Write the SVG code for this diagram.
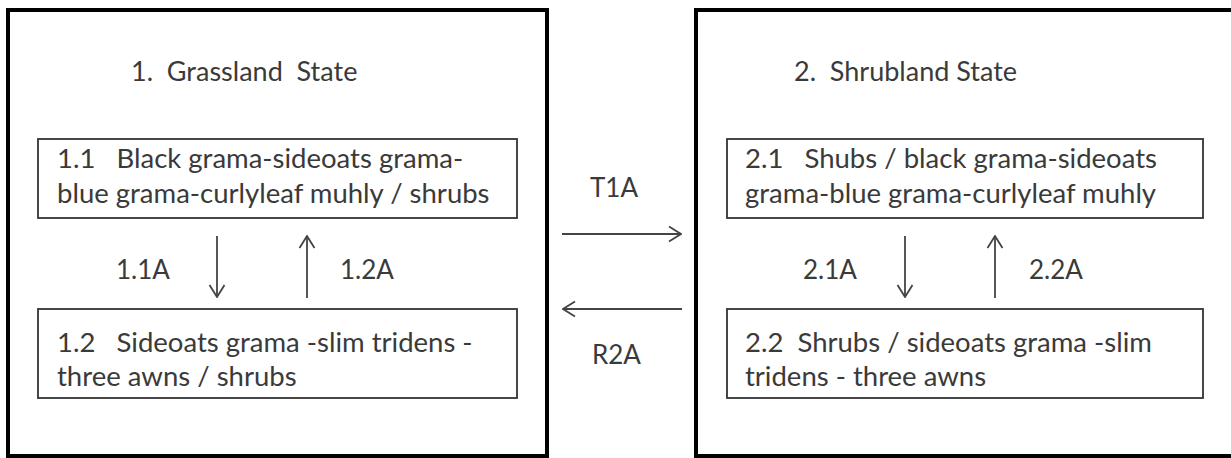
<svg xmlns="http://www.w3.org/2000/svg" width="1231" height="458" viewBox="0 0 1231 458">
<style>
.outer{fill:none;stroke:#000;stroke-width:4}
.inner{fill:none;stroke:#333;stroke-width:1.8}
text{font-family:Lato,"Open Sans","Liberation Sans",sans-serif;font-size:27.5px;fill:#3a3a3a;white-space:pre}
text.title{font-size:27px}
text.lbl{font-size:26px}
.conn line{stroke:#444;stroke-width:1.8;fill:none}
</style>
<defs>
<marker id="ah" viewBox="0 0 14 18" refX="13" refY="9" markerWidth="14" markerHeight="18" markerUnits="userSpaceOnUse" orient="auto">
<polyline points="1,1.5 13,9 1,16.5" fill="none" stroke="#444" stroke-width="1.8"/>
</marker>
</defs>
<rect width="1231" height="458" fill="#fff"/>
<g id="state1">
<rect class="outer" x="8" y="10" width="539" height="446"/>
<text class="title" x="131" y="81">1.  Grassland  State</text>
</g>
<g id="state2">
<rect class="outer" x="696" y="10" width="537" height="446"/>
<text class="title" x="794" y="81">2.  Shrubland State</text>
</g>
<g id="p11">
<rect class="inner" x="38" y="139" width="479" height="79"/>
<text x="57" y="168">1.1   Black grama-sideoats grama-</text>
<text x="57" y="203">blue grama-curlyleaf muhly / shrubs</text>
</g>
<g id="p12">
<rect class="inner" x="38" y="309" width="479" height="89"/>
<text x="57" y="352">1.2   Sideoats grama -slim tridens -</text>
<text x="57" y="386">three awns / shrubs</text>
</g>
<g id="p21">
<rect class="inner" x="727" y="139" width="476" height="79"/>
<text x="745" y="168">2.1   Shubs / black grama-sideoats</text>
<text x="745" y="203">grama-blue grama-curlyleaf muhly</text>
</g>
<g id="p22">
<rect class="inner" x="727" y="309" width="476" height="89"/>
<text x="745" y="352">2.2  Shrubs / sideoats grama -slim</text>
<text x="745" y="386">tridens - three awns</text>
</g>
<g id="connectors" class="conn">
<line x1="217" y1="236" x2="217" y2="297" marker-end="url(#ah)"/>
<line x1="307" y1="298" x2="307" y2="236" marker-end="url(#ah)"/>
<line x1="905" y1="236" x2="905" y2="297" marker-end="url(#ah)"/>
<line x1="995" y1="298" x2="995" y2="236" marker-end="url(#ah)"/>
<line x1="562" y1="234" x2="681" y2="234" marker-end="url(#ah)"/>
<line x1="682" y1="309" x2="563" y2="309" marker-end="url(#ah)"/>
<text class="lbl" x="116" y="279">1.1A</text>
<text class="lbl" x="340" y="279">1.2A</text>
<text class="lbl" x="803" y="279">2.1A</text>
<text class="lbl" x="1029" y="279">2.2A</text>
<text class="lbl" x="590" y="197">T1A</text>
<text class="lbl" x="592" y="364">R2A</text>
</g>
</svg>
